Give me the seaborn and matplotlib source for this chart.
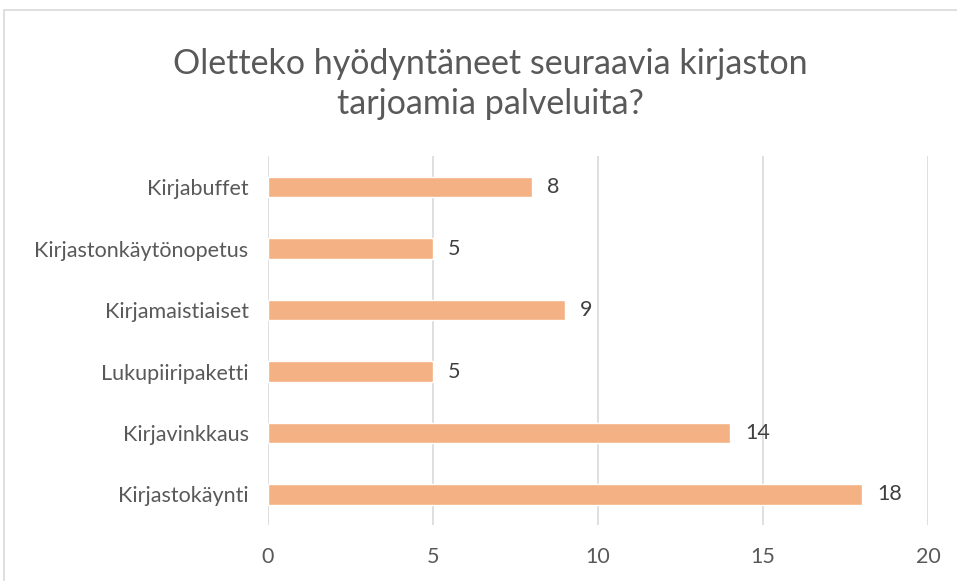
import matplotlib
matplotlib.use("Agg")
import matplotlib.pyplot as plt
import seaborn as sns
import pandas as pd
from matplotlib.patches import Rectangle

# data
palvelut = ["Kirjabuffet", "Kirjastonkäytönopetus", "Kirjamaistiaiset",
            "Lukupiiripaketti", "Kirjavinkkaus", "Kirjastokäynti"]
maarat = [8, 5, 9, 5, 14, 18]
x_ticks = [0, 5, 10, 15, 20]

df = pd.DataFrame({"palvelu": palvelut, "maara": maarat})

sns.set_theme(style="white")
plt.rcParams["font.family"] = ["Lato", "DejaVu Sans"]

grey = "#595959"
fig = plt.figure(figsize=(9.57, 5.81), dpi=100)
ax = fig.add_axes([0.280, 0.096, 0.690, 0.635])

sns.barplot(data=df, x="maara", y="palvelu", color="#F4B183", saturation=1,
            width=0.33, ax=ax, zorder=3)

ax.set_xlim(0, 20)
ax.set_ylim(5.5, -0.5)
ax.set_xticks(x_ticks)
ax.grid(axis="x", color="#D9D9D9", linewidth=1.2, zorder=0)
for s in ax.spines.values():
    s.set_visible(False)
ax.set_xlabel("")
ax.set_ylabel("")
ax.tick_params(axis="both", length=0, labelsize=15.5, colors=grey)
ax.tick_params(axis="y", pad=14)
ax.tick_params(axis="x", pad=16)

for i, v in enumerate(maarat):
    ax.text(v + 0.45, i, str(v), va="center", ha="left", fontsize=15.5, color="#404040")

fig.text(0.512, 0.856, "Oletteko hyödyntäneet seuraavia kirjaston\ntarjoamia palveluita?",
         ha="center", va="center", fontsize=24.5, color=grey, linespacing=1.3)

fig.patches.append(Rectangle((0.004, -0.01), 1.0, 0.992, transform=fig.transFigure,
                             fill=False, edgecolor="#D9D9D9", linewidth=1.2))

fig.savefig("out.png", dpi=100, facecolor="white")
